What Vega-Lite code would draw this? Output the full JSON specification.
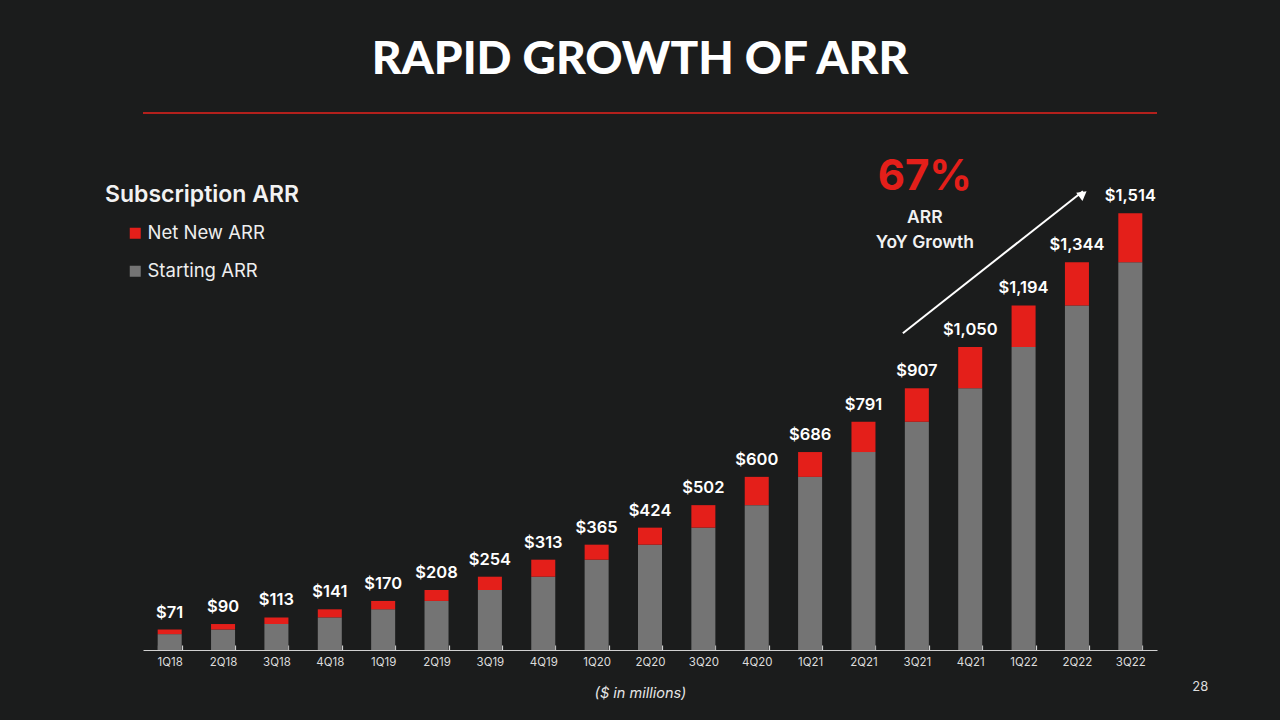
{
  "$schema": "https://vega.github.io/schema/vega-lite/v6.json",
  "autosize": "none",
  "width": 1014,
  "height": 537,
  "padding": {"left": 143, "top": 113, "right": 123, "bottom": 70},
  "background": "#1b1c1c",
  "title": {
    "text": "RAPID GROWTH OF ARR",
    "font": "Lato",
    "fontWeight": 900,
    "fontSize": 46,
    "color": "#ffffff",
    "anchor": "middle",
    "dx": -10,
    "offset": 28
  },
  "config": {
    "view": {"stroke": null},
    "font": "Inter"
  },
  "data": {
    "values": [
      {"quarter": "1Q18", "starting": 55, "total": 71},
      {"quarter": "2Q18", "starting": 71, "total": 90},
      {"quarter": "3Q18", "starting": 90, "total": 113},
      {"quarter": "4Q18", "starting": 113, "total": 141},
      {"quarter": "1Q19", "starting": 141, "total": 170},
      {"quarter": "2Q19", "starting": 170, "total": 208},
      {"quarter": "3Q19", "starting": 208, "total": 254},
      {"quarter": "4Q19", "starting": 254, "total": 313},
      {"quarter": "1Q20", "starting": 313, "total": 365},
      {"quarter": "2Q20", "starting": 365, "total": 424},
      {"quarter": "3Q20", "starting": 424, "total": 502},
      {"quarter": "4Q20", "starting": 502, "total": 600},
      {"quarter": "1Q21", "starting": 600, "total": 686},
      {"quarter": "2Q21", "starting": 686, "total": 791},
      {"quarter": "3Q21", "starting": 791, "total": 907},
      {"quarter": "4Q21", "starting": 907, "total": 1050},
      {"quarter": "1Q22", "starting": 1050, "total": 1194},
      {"quarter": "2Q22", "starting": 1194, "total": 1344},
      {"quarter": "3Q22", "starting": 1344, "total": 1514}
    ]
  },
  "layer": [
    {
      "mark": {"type": "bar"},
      "encoding": {
        "x": {
          "field": "quarter",
          "type": "ordinal",
          "sort": null,
          "scale": {
            "domain": ["1Q18", "2Q18", "3Q18", "4Q18", "1Q19", "2Q19", "3Q19", "4Q19", "1Q20", "2Q20", "3Q20", "4Q20", "1Q21", "2Q21", "3Q21", "4Q21", "1Q22", "2Q22", "3Q22"],
            "paddingInner": 0.55,
            "paddingOuter": 0.275
          },
          "axis": {
            "title": "($ in millions)",
            "titleFont": "Inter",
            "titleFontStyle": "italic",
            "titleFontWeight": 400,
            "titleFontSize": 14.5,
            "titleColor": "#e6e6e6",
            "titleX": 497,
            "titleY": 36,
            "labelFont": "Inter",
            "labelFontSize": 11.5,
            "labelColor": "#dddddd",
            "labelAngle": 0,
            "labelPadding": 11,
            "domainColor": "#d0d0d0",
            "domainWidth": 1.2,
            "ticks": true,
            "tickColor": "#d0d0d0",
            "tickWidth": 1.2,
            "tickSize": -5,
            "tickBand": "extent",
            "grid": false
          }
        },
        "y": {"field": "starting", "type": "quantitative", "scale": {"domain": [0, 1861], "nice": false, "zero": true}, "axis": null},
        "color": {
          "datum": "Starting ARR",
          "scale": {"domain": ["Net New ARR", "Starting ARR"], "range": ["#e41f1a", "#747474"]},
          "legend": {
            "title": "Subscription ARR",
            "orient": "none",
            "legendX": -38,
            "legendY": 71,
            "titleFont": "Inter",
            "titleFontSize": 23,
            "titleFontWeight": 600,
            "titleColor": "#f2f2f2",
            "titleLimit": 400,
            "titlePadding": 17,
            "labelFont": "Inter",
            "labelFontSize": 18.5,
            "labelColor": "#eeeeee",
            "labelLimit": 300,
            "labelOffset": 3,
            "symbolType": "square",
            "symbolSize": 121,
            "symbolStrokeWidth": 0,
            "symbolOffset": 21,
            "rowPadding": 19
          }
        }
      }
    },
    {
      "mark": {"type": "bar"},
      "encoding": {
        "x": {"field": "quarter", "type": "ordinal", "sort": null},
        "y": {"field": "starting", "type": "quantitative"},
        "y2": {"field": "total"},
        "color": {"datum": "Net New ARR"}
      }
    },
    {
      "mark": {"type": "text", "baseline": "bottom", "dy": -9, "font": "Inter", "fontWeight": 600, "fontSize": 16.5, "color": "#ffffff"},
      "encoding": {
        "x": {"field": "quarter", "type": "ordinal", "sort": null},
        "y": {"field": "total", "type": "quantitative"},
        "text": {"field": "total", "type": "quantitative", "format": "$,.0f"}
      }
    },
    {
      "mark": {"type": "rule", "color": "#b3201c", "strokeWidth": 2},
      "encoding": {"y": {"datum": 1861}}
    },
    {
      "data": {"values": [{"q": "3Q21", "v": 1639, "t": "67%"}]},
      "mark": {"type": "text", "font": "Inter", "fontWeight": 700, "fontSize": 42, "color": "#e41f1a", "baseline": "middle", "dx": 8},
      "encoding": {
        "x": {"field": "q", "type": "ordinal"},
        "y": {"field": "v", "type": "quantitative"},
        "text": {"field": "t"}
      }
    },
    {
      "data": {"values": [{"q": "3Q21", "v": 1497, "t": "ARR"}, {"q": "3Q21", "v": 1410, "t": "YoY Growth"}]},
      "mark": {"type": "text", "font": "Inter", "fontWeight": 600, "fontSize": 17.5, "color": "#f2f2f2", "baseline": "middle", "dx": 8},
      "encoding": {
        "x": {"field": "q", "type": "ordinal"},
        "y": {"field": "v", "type": "quantitative"},
        "text": {"field": "t"}
      }
    },
    {
      "data": {"values": [{"q1": "3Q21", "q2": "2Q22", "v1": 1098, "v2": 1590}]},
      "mark": {"type": "rule", "color": "#ffffff", "strokeWidth": 2, "xOffset": -14, "x2Offset": 6},
      "encoding": {
        "x": {"field": "q1", "type": "ordinal"},
        "x2": {"field": "q2"},
        "y": {"field": "v1", "type": "quantitative"},
        "y2": {"field": "v2"}
      }
    },
    {
      "data": {"values": [{"q": "2Q22", "v": 1580}]},
      "mark": {"type": "point", "shape": "triangle-up", "filled": true, "color": "#ffffff", "opacity": 1, "size": 110, "angle": 53, "xOffset": 6},
      "encoding": {
        "x": {"field": "q", "type": "ordinal"},
        "y": {"field": "v", "type": "quantitative"}
      }
    },
    {
      "data": {"values": [{"q": "3Q22", "v": -128, "t": "28"}]},
      "mark": {"type": "text", "font": "Inter", "fontSize": 13, "color": "#dddddd", "baseline": "middle", "dx": 70},
      "encoding": {
        "x": {"field": "q", "type": "ordinal"},
        "y": {"field": "v", "type": "quantitative"},
        "text": {"field": "t"}
      }
    }
  ]
}
